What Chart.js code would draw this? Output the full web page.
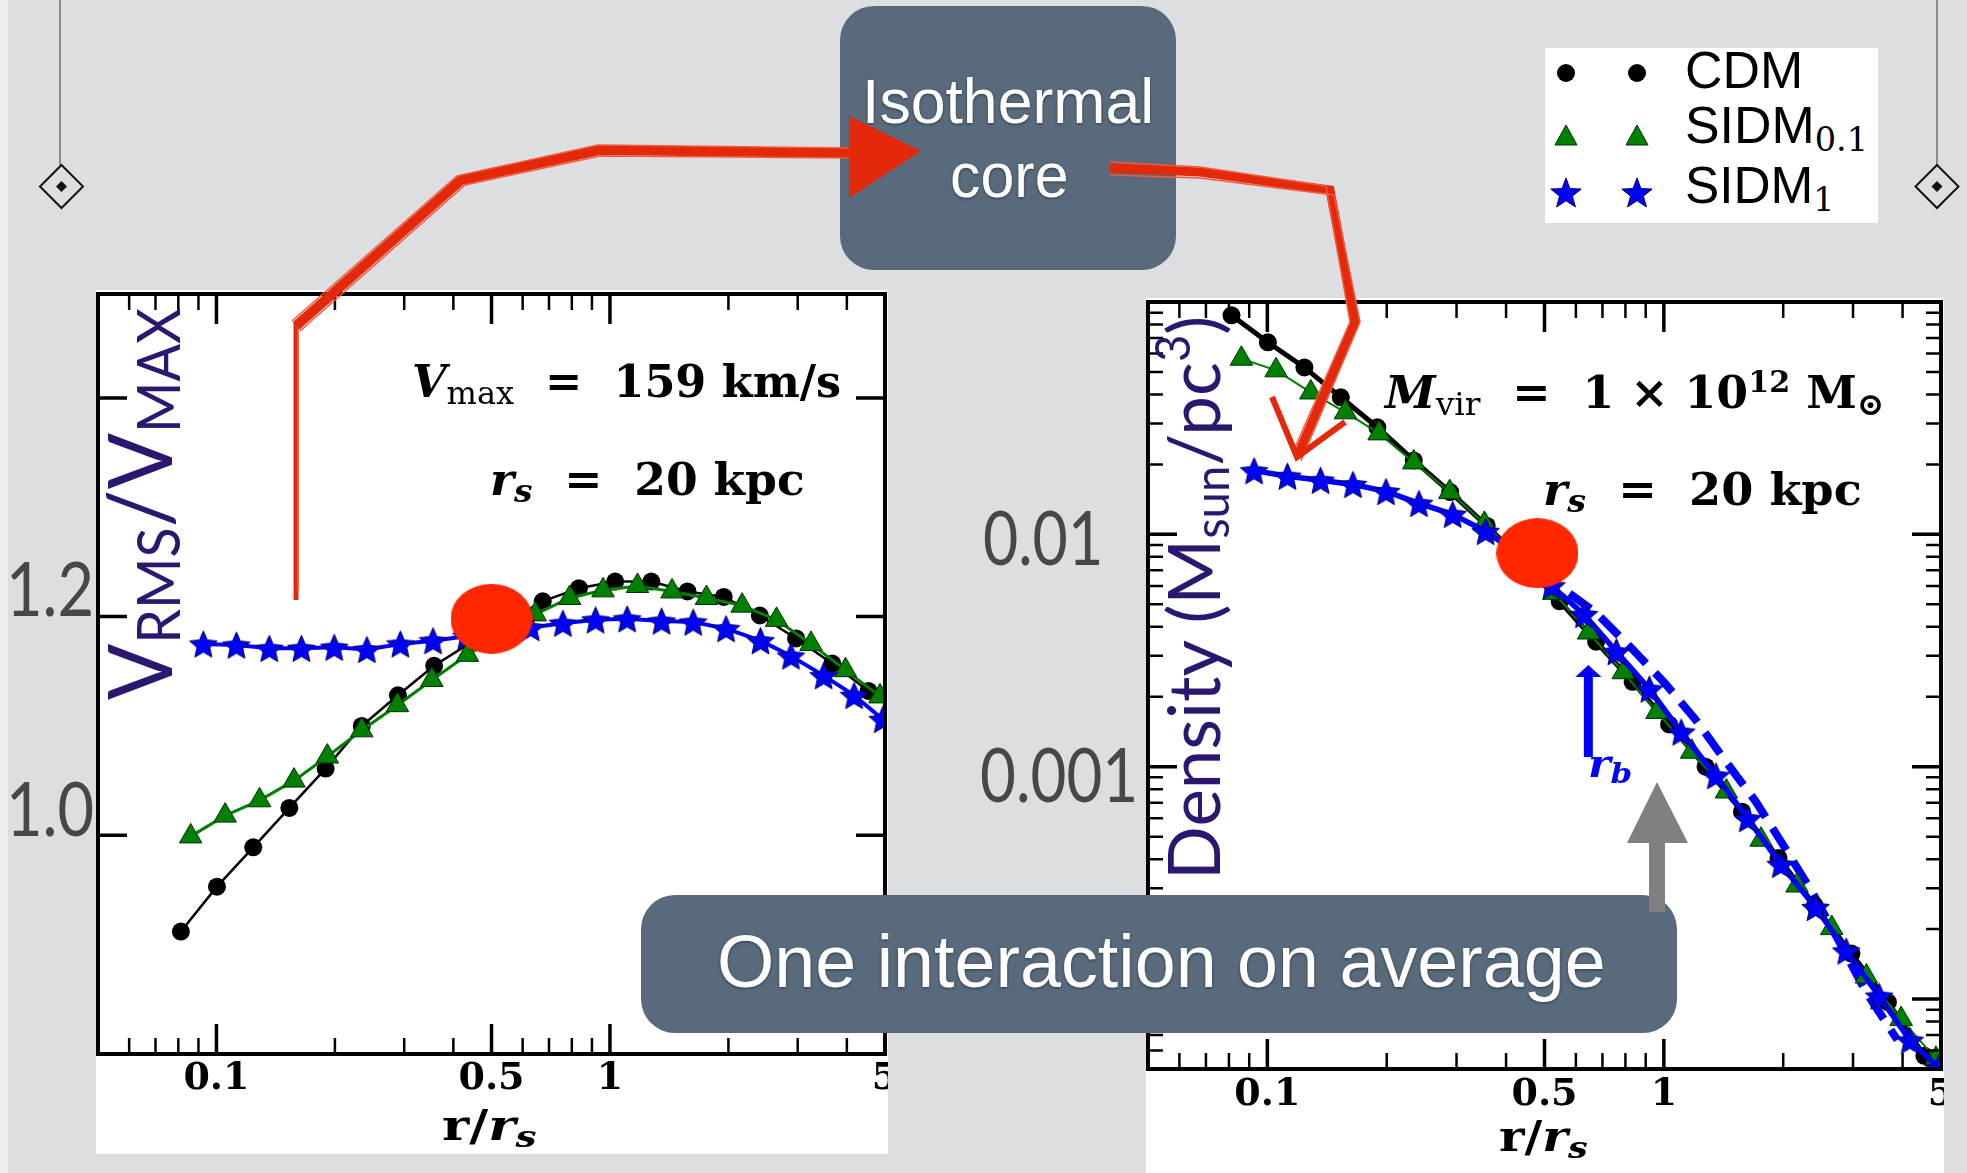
<!DOCTYPE html>
<html>
<head>
<meta charset="utf-8">
<script src="https://cdn.jsdelivr.net/npm/chart.js@4.4.0/dist/chart.umd.min.js"></script>
<style>
  html, body { margin: 0; padding: 0; }
  body { width: 1967px; height: 1173px; position: relative; overflow: hidden; background: #dcdee2; font-family: "Liberation Sans", Arial, sans-serif; }
  .t { position: absolute; white-space: nowrap; line-height: 1; z-index: 3; }
  .math { font-family: "DejaVu Serif", serif; font-weight: bold; color: #000; font-size: 44px; }
  .math i { font-style: italic; }
  .sub { font-size: 0.72em; vertical-align: -0.22em; line-height: 0; }
  .sup { font-size: 0.66em; vertical-align: 0.55em; line-height: 0; }
  .up { font-weight: normal; }
  .gray { font-family: Lato, sans-serif; color: #474747; font-size: 76px; }
  .title { font-family: Lato, sans-serif; color: #2b1670; }
  .box { position: absolute; background: #586a7c; border-radius: 34px; z-index: 4; }
  .boxtxt { color: #fff; text-shadow: 0 1px 3px rgba(0,0,0,0.45); z-index: 5; }
  canvas { position: absolute; background: #fff; z-index: 1; }
  #legend { position: absolute; left: 1545px; top: 48px; width: 333px; height: 175px; background: #fff; z-index: 2; }
  .leg { font-size: 51px; color: #000; z-index: 3; }
</style>
</head>
<body>
<div style="position:absolute;left:0;top:0;width:8px;height:1173px;background:#eceef1"></div>

<canvas id="vel" width="792" height="864" style="left:96px;top:290px"></canvas>
<canvas id="dens" width="798" height="875" style="left:1146px;top:298px"></canvas>

<div id="legend"></div>

<div class="t math" id="vmax"><i>V</i><span class="sub up">max</span>&nbsp;&nbsp;=&nbsp;&nbsp;159 km/s</div>
<div class="t math" id="rs1"><i>r</i><span class="sub"><i>s</i></span>&nbsp;&nbsp;=&nbsp;&nbsp;20 kpc</div>
<div class="t math" id="mvir"><i>M</i><span class="sub up">vir</span>&nbsp;&nbsp;=&nbsp;&nbsp;1 × 10<span class="sup">12</span> M<span class="sub">⊙</span></div>
<div class="t math" id="rs2"><i>r</i><span class="sub"><i>s</i></span>&nbsp;&nbsp;=&nbsp;&nbsp;20 kpc</div>
<div class="t math" id="rr1" style="font-size:42px">r/<i>r</i><span class="sub"><i>s</i></span></div>
<div class="t math" id="rr2" style="font-size:42px">r/<i>r</i><span class="sub"><i>s</i></span></div>
<div class="t math" id="rb" style="font-size:40px;color:#0000ff"><i>r</i><span class="sub"><i>b</i></span></div>

<div class="t gray" id="l12">1.2</div>
<div class="t gray" id="l10">1.0</div>
<div class="t gray" id="l001">0.01</div>
<div class="t gray" id="l0001">0.001</div>

<div class="t title" id="ytl" style="font-size:90px">V<span style="font-size:60px;vertical-align:-8px;line-height:0">RMS</span>/V<span style="font-size:60px;vertical-align:-8px;line-height:0">MAX</span></div>
<div class="t title" id="ytr" style="font-size:72px">Density (M<span style="font-size:48px;vertical-align:-9px;line-height:0">sun</span>/pc<span style="font-size:48px;vertical-align:30px;line-height:0">3</span>)</div>

<div class="box" style="left:840px;top:6px;width:336px;height:264px"></div>
<div class="t boxtxt" id="iso1" style="font-size:63px">Isothermal</div>
<div class="t boxtxt" id="iso2" style="font-size:63px">core</div>

<div class="box" style="left:641px;top:895px;width:1036px;height:138px"></div>
<div class="t boxtxt" id="one" style="font-size:74px">One interaction on average</div>

<div class="t leg" id="lg1">CDM</div>
<div class="t leg" id="lg2">SIDM<span style="font-family:'DejaVu Serif',serif;font-size:33px;vertical-align:-8px;line-height:0">0.1</span></div>
<div class="t leg" id="lg3">SIDM<span style="font-family:'DejaVu Serif',serif;font-size:33px;vertical-align:-8px;line-height:0">1</span></div>

<svg id="over" width="1967" height="1173" style="position:absolute;left:0;top:0;z-index:6;pointer-events:none">
  <line x1="60" y1="0" x2="60" y2="165" stroke="#8a8a8a" stroke-width="2"/>
  <polygon points="61.5,165 83,186.5 61.5,208 40,186.5" fill="none" stroke="#111" stroke-width="2"/>
  <polygon points="61.5,181 67,186.5 61.5,192 56,186.5" fill="#111"/>
  <line x1="1937" y1="0" x2="1937" y2="165" stroke="#8a8a8a" stroke-width="2"/>
  <polygon points="1937,165 1958.5,186.5 1937,208 1915.5,186.5" fill="none" stroke="#111" stroke-width="2"/>
  <polygon points="1937,181 1942.5,186.5 1937,192 1931.5,186.5" fill="#111"/>

  <g fill="none" stroke="#e4290b" stroke-linejoin="miter" stroke-linecap="butt">
    <polyline points="296,600 296,323" stroke-width="5"/>
    <polyline points="298,590 298,325" stroke-width="1.5" stroke="#f05a3a"/>
    <polyline points="296,326 461,180 599,150 850,153" stroke-width="10"/>
    <polyline points="292,321 457,176 598,145 850,148" stroke-width="1.5" stroke="#f05a3a"/>
    <polyline points="300,331 465,185 600,156 850,158" stroke-width="1.5" stroke="#f05a3a"/>
    <polyline points="1110,168 1200,172 1330,190 1355,322 1297,457" stroke-width="9"/>
    <polyline points="1110,162 1200,167 1326,186 1350,322 1293,452" stroke-width="1.5" stroke="#f05a3a"/>
    <polyline points="1110,175 1200,178 1334,195 1360,322 1301,461" stroke-width="1.5" stroke="#f05a3a"/>
    <polyline points="1272,397 1297,457 1345,422" stroke-width="6"/>
  </g>
  <polygon points="849,116 849,198 921,151" fill="#e4290b"/>

  <rect x="1649" y="842" width="16" height="70" fill="#808080"/>
  <polygon points="1627,843 1688,843 1657,782" fill="#808080"/>
</svg>

<script>
// radii r/r_s of the profile points (each run has its own bins)
const rCDM = [0.0812, 0.1003, 0.124, 0.1532, 0.1894, 0.234, 0.2892, 0.3574, 0.4417, 0.546, 0.6748, 0.834, 1.031, 1.274, 1.574, 1.946, 2.404, 2.972, 3.673, 4.539];
const rS01 = [0.086, 0.1052, 0.1287, 0.1574, 0.1913, 0.234, 0.2884, 0.3527, 0.4345, 0.528, 0.6459, 0.79, 0.9605, 1.175, 1.438, 1.759, 2.167, 2.651, 3.243, 3.967, 4.854];
const rS1 = [0.0926, 0.1124, 0.1362, 0.1644, 0.1992, 0.2412, 0.2933, 0.3551, 0.4315, 0.5208, 0.6289, 0.7592, 0.9194, 1.106, 1.353, 1.628, 1.972, 2.413, 2.884, 3.492, 4.173, 4.935];

// velocity dispersion, V_rms / V_max
const vCDM = [0.912, 0.953, 0.989, 1.025, 1.061, 1.100, 1.128, 1.155, 1.176, 1.195, 1.214, 1.226, 1.232, 1.232, 1.223, 1.218, 1.201, 1.180, 1.157, 1.132];
const vS01 = [0.999, 1.018, 1.032, 1.050, 1.072, 1.096, 1.119, 1.142, 1.165, 1.184, 1.202, 1.217, 1.224, 1.228, 1.223, 1.217, 1.210, 1.197, 1.175, 1.151, 1.127];
const vS1 = [1.175, 1.174, 1.171, 1.171, 1.172, 1.170, 1.175, 1.178, 1.182, 1.185, 1.190, 1.194, 1.197, 1.198, 1.196, 1.195, 1.189, 1.178, 1.164, 1.146, 1.128, 1.106];

// density, M_sun / pc^3
const rhoCDM = [0.0876, 0.0671, 0.0523, 0.0389, 0.0289, 0.0208, 0.0152, 0.0109, 0.00765, 0.00515, 0.00345, 0.00232, 0.00152, 0.00100, 0.000640, 0.000405, 0.000252, 0.000157, 0.0000970, 0.0000570];
const rhoS01 = [0.0570, 0.0508, 0.0408, 0.0335, 0.0272, 0.0204, 0.0152, 0.0111, 0.00790, 0.00560, 0.00378, 0.00255, 0.00172, 0.00116, 0.000782, 0.000485, 0.000308, 0.000202, 0.000125, 0.0000820, 0.0000553];
const rhoS1 = [0.0188, 0.0178, 0.0171, 0.0164, 0.0153, 0.0136, 0.0122, 0.0103, 0.00821, 0.00601, 0.00452, 0.00313, 0.00216, 0.00141, 0.000915, 0.000598, 0.000380, 0.000248, 0.000161, 0.000103, 0.0000665, 0.0000505];

// dashed SIDM_1 fit beyond the core
const rFit = [0.578, 0.675, 0.822, 1.003, 1.205, 1.435, 1.707, 2.0, 2.362, 2.767, 3.23, 3.88];
const rhoFit = [0.00556, 0.00459, 0.00328, 0.0023, 0.001586, 0.00105, 0.000706, 0.00046, 0.00029, 0.000177, 0.0001076, 0.0000667];

// red marker where the core sets in
const dotR = [0.5], dotV = [1.198];
const dotR2 = [0.48], dotRho = [0.0083];
const rbValue = 0.645;
const rbFrom = 0.0011, rbTo = 0.00274;

// axes
const xMajor = [0.1, 0.5, 1];
const xMinor = [0.06, 0.07, 0.08, 0.09, 0.2, 0.3, 0.4, 0.6, 0.7, 0.8, 0.9, 2, 3, 4];
const xLabels = ['0.1', '0.5', '1', '5'];
const xLabelVals = [0.1, 0.5, 1, 5];
const vMajor = [1.0, 1.2, 1.4];
const rhoMajor = [0.01, 0.001, 0.0001];
const rhoMinor = [0.02, 0.03, 0.04, 0.05, 0.06, 0.07, 0.08, 0.09,
  0.002, 0.003, 0.004, 0.005, 0.006, 0.007, 0.008, 0.009,
  0.0002, 0.0003, 0.0004, 0.0005, 0.0006, 0.0007, 0.0008, 0.0009,
  0.00006, 0.00007, 0.00008, 0.00009];

const pts = (xs, ys) => xs.map((v, i) => ({x: v, y: ys[i]}));

function starImage(size) {
  const c = document.createElement('canvas');
  c.width = c.height = size;
  const g = c.getContext('2d');
  const m = size / 2, R = size / 2 - 1, r = R * 0.46;
  g.beginPath();
  for (let i = 0; i < 10; i++) {
    const a = -Math.PI / 2 + i * Math.PI / 5, d = i % 2 ? r : R;
    g.lineTo(m + d * Math.cos(a), m + 1.5 + d * Math.sin(a));
  }
  g.closePath();
  g.fillStyle = '#0000ff';
  g.fill();
  g.strokeStyle = '#000050';
  g.lineWidth = 1;
  g.stroke();
  return c;
}

function ellipseImage(w, h) {
  const c = document.createElement('canvas');
  c.width = w; c.height = h;
  const g = c.getContext('2d');
  g.beginPath();
  g.ellipse(w / 2, h / 2, w / 2, h / 2, 0, 0, Math.PI * 2);
  g.fillStyle = '#ff2600';
  g.fill();
  return c;
}

const star = starImage(31);
const redDot = ellipseImage(82, 70);

// inward ticks, frame and tick labels, like the matplotlib original
const framePlugin = {
  id: 'frame',
  afterDatasetsDraw(chart, args, o) {
    const {ctx, chartArea: a} = chart;
    const x = chart.scales.x, y = chart.scales.y;
    ctx.save();
    ctx.strokeStyle = '#000';
    const xt = (vals, len, w) => {
      ctx.lineWidth = w;
      ctx.beginPath();
      vals.forEach(v => {
        const p = x.getPixelForValue(v);
        ctx.moveTo(p, a.bottom); ctx.lineTo(p, a.bottom - len);
        ctx.moveTo(p, a.top); ctx.lineTo(p, a.top + len);
      });
      ctx.stroke();
    };
    const yt = (vals, len, w) => {
      ctx.lineWidth = w;
      ctx.beginPath();
      vals.forEach(v => {
        const p = y.getPixelForValue(v);
        ctx.moveTo(a.left, p); ctx.lineTo(a.left + len, p);
        ctx.moveTo(a.right, p); ctx.lineTo(a.right - len, p);
      });
      ctx.stroke();
    };
    xt(o.xMajor, 30, 3.5);
    xt(o.xMinor, 16, 2.5);
    yt(o.yMajor, 29, 3.5);
    yt(o.yMinor, 15, 2.5);
    ctx.lineWidth = 4;
    ctx.strokeRect(a.left, a.top, a.right - a.left, a.bottom - a.top);

    if (o.arrow) {
      const px = x.getPixelForValue(o.arrow.x);
      const y0 = y.getPixelForValue(o.arrow.from), y1 = y.getPixelForValue(o.arrow.to);
      ctx.fillStyle = '#0000ff';
      ctx.fillRect(px - 4.5, y1 + 11, 9, y0 - y1 - 11);
      ctx.beginPath();
      ctx.moveTo(px - 13, y1 + 12); ctx.lineTo(px + 13, y1 + 12); ctx.lineTo(px, y1);
      ctx.closePath();
      ctx.fill();
    }

    ctx.fillStyle = '#000';
    ctx.font = 'bold 38px "DejaVu Serif"';
    ctx.textAlign = 'center';
    ctx.textBaseline = 'middle';
    o.labels.forEach((t, i) => ctx.fillText(t, x.getPixelForValue(o.labelVals[i]), a.bottom + o.gap));
    ctx.restore();
  }
};

Chart.defaults.font.family = '"DejaVu Serif", serif';

function baseOptions(yScale, padding, frame) {
  return {
    responsive: false,
    animation: false,
    devicePixelRatio: 1,
    events: [],
    layout: {padding: padding, autoPadding: false},
    elements: {line: {tension: 0}},
    plugins: {legend: {display: false}, tooltip: {enabled: false}, frame: frame},
    scales: {
      x: {type: 'logarithmic', min: 0.05, max: 5, display: false},
      y: yScale
    }
  };
}

new Chart(document.getElementById('vel'), {
  type: 'scatter',
  data: {
    datasets: [
      {label: 'core', data: pts(dotR, dotV), pointStyle: redDot, pointRadius: 40, order: 0},
      {label: 'SIDM1', data: pts(rS1, vS1), showLine: true, borderColor: '#0000ff', borderWidth: 4,
        pointStyle: star, pointRadius: 14, order: 1},
      {label: 'SIDM0.1', data: pts(rS01, vS01), showLine: true, borderColor: '#008000', borderWidth: 3,
        pointStyle: 'triangle', pointRadius: 13, pointBackgroundColor: '#008000', pointBorderColor: '#003300', pointBorderWidth: 1, order: 2},
      {label: 'CDM', data: pts(rCDM, vCDM), showLine: true, borderColor: '#000', borderWidth: 2.5,
        pointStyle: 'circle', pointRadius: 9, pointBackgroundColor: '#000', pointBorderWidth: 0, order: 3}
    ]
  },
  options: baseOptions({type: 'linear', min: 0.8, max: 1.495, display: false},
    {left: 2, top: 4, right: 3, bottom: 100},
    {xMajor, xMinor, yMajor: vMajor, yMinor: [], labels: xLabels, labelVals: xLabelVals, gap: 25}),
  plugins: [framePlugin]
});

new Chart(document.getElementById('dens'), {
  type: 'scatter',
  data: {
    datasets: [
      {label: 'core', data: pts(dotR2, dotRho), pointStyle: redDot, pointRadius: 40, order: 0},
      {label: 'SIDM1', data: pts(rS1, rhoS1), showLine: true, borderColor: '#0000ff', borderWidth: 5.5,
        pointStyle: star, pointRadius: 14, order: 1},
      {label: 'SIDM0.1', data: pts(rS01, rhoS01), showLine: true, borderColor: '#008000', borderWidth: 2,
        pointStyle: 'triangle', pointRadius: 13, pointBackgroundColor: '#008000', pointBorderColor: '#003300', pointBorderWidth: 1, order: 2},
      {label: 'CDM', data: pts(rCDM, rhoCDM), showLine: true, borderColor: '#000', borderWidth: 5,
        pointStyle: 'circle', pointRadius: 9, pointBackgroundColor: '#000', pointBorderWidth: 0, order: 3},
      {label: 'fit', data: pts(rFit, rhoFit), showLine: true, borderColor: '#0000ff', borderWidth: 8,
        borderDash: [26, 13], pointRadius: 0, order: 4}
    ]
  },
  options: baseOptions({type: 'logarithmic', min: 0.00005, max: 0.1, display: false},
    {left: 2, top: 4, right: 3, bottom: 104},
    {xMajor, xMinor, yMajor: rhoMajor, yMinor: rhoMinor, labels: xLabels, labelVals: xLabelVals, gap: 26,
      arrow: {x: rbValue, from: rbFrom, to: rbTo}}),
  plugins: [framePlugin]
});

// legend markers
(function () {
  const xs = [21, 92];
  let s = '<svg width="333" height="175" style="position:absolute;left:0;top:0">';
  xs.forEach(cx => {
    s += `<circle cx="${cx}" cy="25" r="9" fill="#000"/>`;
    s += `<polygon points="${cx},77 ${cx - 11},97 ${cx + 11},97" fill="#008000" stroke="#003300" stroke-width="1"/>`;
    let p = [];
    for (let i = 0; i < 10; i++) {
      const a = -Math.PI / 2 + i * Math.PI / 5, d = i % 2 ? 6.7 : 16;
      p.push((cx + d * Math.cos(a)).toFixed(1) + ',' + (146 + d * Math.sin(a)).toFixed(1));
    }
    s += `<polygon points="${p.join(' ')}" fill="#0000ff" stroke="#000050" stroke-width="1"/>`;
  });
  document.getElementById('legend').innerHTML = s + '</svg>';
})();

// text placement: baseline, anchor and target width
function baselineOf(el) {
  const m = document.createElement('span');
  m.style.cssText = 'display:inline-block;width:0;height:0;';
  el.appendChild(m);
  const b = m.offsetTop;
  el.removeChild(m);
  return b;
}
function place(id, x, base, w, align) {
  const el = document.getElementById(id);
  const b = baselineOf(el);
  const width = el.offsetWidth;
  const left = align === 'right' ? x - width : align === 'center' ? x - width / 2 : x;
  el.style.left = left + 'px';
  el.style.top = (base - b) + 'px';
  el.style.transformOrigin = align === 'right' ? '100% 0' : align === 'center' ? '50% 0' : '0 0';
  el.style.transform = 'scaleX(' + (w ? w / width : 1) + ')';
}
function placeVertical(id, xBase, yStart, len) {
  const el = document.getElementById(id);
  const b = baselineOf(el);
  const width = el.offsetWidth;
  el.style.left = (xBase - b) + 'px';
  el.style.top = yStart + 'px';
  el.style.transformOrigin = '0 0';
  el.style.transform = 'rotate(-90deg) scaleX(' + (len / width) + ')';
}

function layoutText() {
  place('vmax', 841, 397, 429, 'right');
  place('rs1', 805, 495, 315, 'right');
  place('mvir', 1884, 408, 499, 'right');
  place('rs2', 1862, 505, 319, 'right');
  place('rr1', 489, 1140, 95, 'center');
  place('rr2', 1543, 1151, 89, 'center');
  place('rb', 1588, 777, 44, 'left');
  place('l12', 6, 616, 88, 'left');
  place('l10', 6, 836, 88, 'left');
  place('l001', 983, 565, 120, 'left');
  place('l0001', 980, 802, 158, 'left');
  place('iso1', 1008, 123, 292, 'center');
  place('iso2', 1009, 197, 119, 'center');
  place('one', 1161, 987, 889, 'center');
  place('lg1', 1685, 88, 118, 'left');
  place('lg2', 1685, 143, 183, 'left');
  place('lg3', 1685, 203, 150, 'left');
  placeVertical('ytl', 172, 700, 392);
  placeVertical('ytr', 1220, 880, 564);
}
layoutText();
if (document.fonts && document.fonts.ready) document.fonts.ready.then(layoutText);
</script>
</body>
</html>
